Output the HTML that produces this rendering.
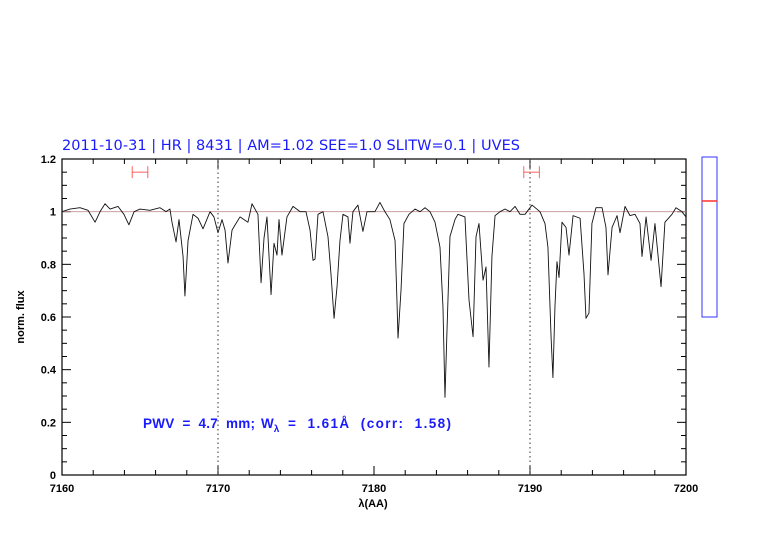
<!DOCTYPE html>
<html><head><meta charset="utf-8">
<style>
html,body{margin:0;padding:0;background:#fff;}
svg{display:block;}
text{font-family:"Liberation Sans",sans-serif;}
</style></head>
<body>
<svg id="chart" width="782" height="542" viewBox="0 0 782 542" xmlns="http://www.w3.org/2000/svg">
<text x="62" y="150" fill="#1a1aff" font-size="14.5" style="font-family:'DejaVu Sans',sans-serif" textLength="458">2011-10-31 | HR | 8431 | AM=1.02 SEE=1.0 SLITW=0.1 | UVES</text>
<g id="axes"></g>
<g id="series"></g>
<text x="0" y="0" transform="translate(24,317) rotate(-90)" text-anchor="middle" font-size="11" font-weight="bold">norm. flux</text>
<text x="373" y="507" text-anchor="middle" font-size="11" font-weight="bold">λ(AA)</text>
<text x="143" y="428" fill="#1a1aff" font-size="13.5" font-weight="bold" style="white-space:pre" xml:space="preserve"><tspan textLength="112">PWV  =  4.7  mm;</tspan><tspan x="261">W</tspan><tspan font-size="10" dy="4">λ</tspan><tspan dy="-4" x="288" textLength="163">=  1.61Å  (corr:  1.58)</tspan></text>
<rect x="702" y="157" width="15" height="160" fill="none" stroke="#3333ff" stroke-width="1"/>
<line x1="702" x2="717" y1="201" y2="201" stroke="#ff3030" stroke-width="1.5"/>
</svg>
<script>
const wavelengths=[7160.00,7160.51,7161.15,7161.67,7162.12,7162.44,7162.76,7163.08,7163.59,7163.97,7164.29,7164.62,7165.00,7165.64,7166.28,7166.67,7166.92,7167.05,7167.31,7167.50,7167.76,7167.88,7168.08,7168.40,7168.72,7169.04,7169.49,7169.74,7170.00,7170.26,7170.45,7170.64,7170.90,7171.15,7171.41,7171.67,7171.92,7172.18,7172.56,7172.76,7172.95,7173.14,7173.40,7173.59,7173.78,7173.91,7174.10,7174.42,7174.81,7175.26,7175.64,7175.90,7176.09,7176.22,7176.41,7176.73,7177.05,7177.24,7177.44,7177.63,7177.82,7178.01,7178.33,7178.46,7178.65,7178.97,7179.29,7179.55,7180.06,7180.38,7180.70,7181.02,7181.35,7181.47,7181.54,7181.73,7181.92,7182.24,7182.63,7182.95,7183.27,7183.59,7183.91,7184.23,7184.42,7184.55,7184.68,7184.87,7185.19,7185.38,7185.83,7186.09,7186.35,7186.54,7186.73,7186.99,7187.18,7187.37,7187.56,7187.76,7188.08,7188.40,7188.72,7189.04,7189.36,7189.68,7190.13,7190.64,7190.96,7191.15,7191.35,7191.47,7191.60,7191.73,7191.86,7192.05,7192.31,7192.50,7192.76,7193.21,7193.46,7193.59,7193.78,7193.97,7194.23,7194.62,7194.87,7195.00,7195.26,7195.58,7195.77,7196.09,7196.41,7196.73,7197.05,7197.18,7197.44,7197.76,7198.01,7198.40,7198.65,7199.10,7199.36,7199.74,7200.00];
const fluxValues=[1.00,1.01,1.015,1.005,0.96,1.0,1.03,1.01,1.02,0.99,0.95,1.0,1.01,1.005,1.015,1.0,1.01,0.96,0.885,0.97,0.83,0.68,0.89,0.99,0.975,0.935,1.0,0.98,0.92,0.97,0.93,0.805,0.93,0.955,0.98,0.97,0.96,1.03,0.99,0.73,0.9,0.98,0.685,0.88,0.835,0.97,0.835,0.98,1.02,1.0,1.0,0.93,0.815,0.82,0.99,1.0,0.905,0.765,0.595,0.715,0.89,0.99,0.98,0.88,1.0,1.025,0.925,1.0,1.0,1.035,1.0,0.97,0.89,0.665,0.52,0.70,0.955,0.99,1.01,1.0,1.015,1.0,0.96,0.865,0.64,0.295,0.55,0.905,0.97,0.99,0.98,0.665,0.525,0.905,0.955,0.74,0.79,0.41,0.83,0.985,1.0,1.01,1.0,1.02,0.99,0.99,1.025,1.0,0.955,0.865,0.525,0.37,0.64,0.81,0.75,0.96,0.94,0.835,0.985,0.975,0.765,0.595,0.615,0.955,1.015,1.015,0.94,0.76,0.94,0.985,0.92,1.02,0.985,0.99,0.955,0.83,0.98,0.815,0.955,0.715,0.96,0.99,1.015,1.0,0.98];
const xTickLabels=[7160,7170,7180,7190,7200];
const yTickLabels=[0,0.2,0.4,0.6,0.8,1,1.2];
const dottedLines=[7170,7190];
const errorBars=[[7164.5,7165.5],[7189.6,7190.6]];
const errorBarLevel=1.15;

const X0=62,X1=686,Y0=475,Y1=159,XMIN=7160,XMAX=7200,YMIN=0,YMAX=1.2;
function xs(v){return X0+(v-XMIN)/(XMAX-XMIN)*(X1-X0);}
function ys(v){return Y0-(v-YMIN)/(YMAX-YMIN)*(Y0-Y1);}
const NS='http://www.w3.org/2000/svg';
function mk(tag,attrs,parent){const e=document.createElementNS(NS,tag);for(const k in attrs)e.setAttribute(k,attrs[k]);parent.appendChild(e);return e;}
const axes=document.getElementById('axes');
const series=document.getElementById('series');

const fr=mk('rect',{x:X0,y:Y1,width:X1-X0,height:Y0-Y1,fill:'none',stroke:'#000','stroke-width':1.2},axes);


for(let v=XMIN;v<=XMAX+0.001;v+=2){
  const major=Math.abs(v%10)<0.001;const L=major?9:5;const x=xs(v);
  const t1=mk('line',{x1:x,x2:x,y1:Y0,y2:Y0-L,stroke:'#000','stroke-width':1},axes);
  
  
  const t2=mk('line',{x1:x,x2:x,y1:Y1,y2:Y1+L,stroke:'#000','stroke-width':1},axes);
  
  
}
xTickLabels.forEach(v=>{
  const t=mk('text',{x:xs(v),y:Y0+17,'text-anchor':'middle','font-size':11,'font-weight':'bold'},axes);
  t.textContent=v;
  
  
});
for(let i=0;i<=24;i++){
  const v=i*0.05;const major=i%4===0;const L=major?9:5;const y=ys(v);
  const t1=mk('line',{x1:X0,x2:X0+L,y1:y,y2:y,stroke:'#000','stroke-width':1},axes);
  
  
  const t2=mk('line',{x1:X1,x2:X1-L,y1:y,y2:y,stroke:'#000','stroke-width':1},axes);
  
  
}
yTickLabels.forEach(v=>{
  const t=mk('text',{x:X0-6,y:ys(v)+4,'text-anchor':'end','font-size':11,'font-weight':'bold'},axes);
  t.textContent=String(v);
  
  
});
dottedLines.forEach(v=>{
  const l=mk('line',{x1:xs(v),x2:xs(v),y1:Y1,y2:Y0,stroke:'#333','stroke-width':1,'stroke-dasharray':'1.5,3'},axes);
  
  
});
const cl=mk('line',{x1:X0,x2:X1,y1:ys(1),y2:ys(1),stroke:'#c09090','stroke-width':0.8},axes);


errorBars.forEach(b=>{
  const g=mk('g',{stroke:'#ff6060','stroke-width':1},axes);
  
  
  const y=ys(errorBarLevel);
  mk('line',{x1:xs(b[0]),x2:xs(b[1]),y1:y,y2:y},g);
  mk('line',{x1:xs(b[0]),x2:xs(b[0]),y1:y-6,y2:y+6},g);
  mk('line',{x1:xs(b[1]),x2:xs(b[1]),y1:y-6,y2:y+6},g);
});
let d='';
wavelengths.forEach((w,i)=>{d+=(i?'L':'M')+xs(w).toFixed(2)+','+ys(fluxValues[i]).toFixed(2);});
const p=mk('path',{d:d,fill:'none',stroke:'#111','stroke-width':0.9,'stroke-linejoin':'round'},series);


</script>
</body></html>
